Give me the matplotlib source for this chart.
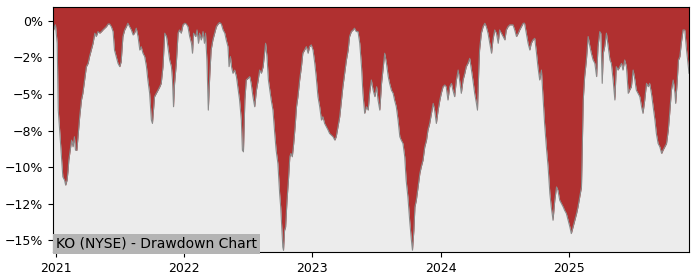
import pandas as pd
import matplotlib
matplotlib.use('Agg')
import matplotlib.pyplot as plt
import matplotlib.dates as mdates
from matplotlib.ticker import PercentFormatter, MultipleLocator

# KO drawdown in percent
dates = [
    '2020-12-24', '2020-12-29', '2020-12-31', '2021-01-05', '2021-01-08', '2021-01-12', '2021-01-17', '2021-01-21',
    '2021-01-26', '2021-01-29', '2021-02-02', '2021-02-05', '2021-02-07', '2021-02-11', '2021-02-15', '2021-02-19',
    '2021-02-23', '2021-02-26', '2021-03-02', '2021-03-06', '2021-03-10', '2021-03-15', '2021-03-19', '2021-03-24',
    '2021-03-29', '2021-04-03', '2021-04-07', '2021-04-12', '2021-04-17', '2021-04-22', '2021-04-26', '2021-05-01',
    '2021-05-06', '2021-05-11', '2021-05-15', '2021-05-20', '2021-05-25', '2021-05-30', '2021-06-03', '2021-06-08',
    '2021-06-13', '2021-06-17', '2021-06-22', '2021-06-27', '2021-07-02', '2021-07-06', '2021-07-11', '2021-07-16',
    '2021-07-21', '2021-07-25', '2021-07-30', '2021-08-04', '2021-08-09', '2021-08-13', '2021-08-18', '2021-08-23',
    '2021-08-28', '2021-09-01', '2021-09-06', '2021-09-11', '2021-09-16', '2021-09-20', '2021-09-25', '2021-09-30',
    '2021-10-03', '2021-10-06', '2021-10-09', '2021-10-14', '2021-10-19', '2021-10-24', '2021-10-28', '2021-11-02',
    '2021-11-07', '2021-11-12', '2021-11-16', '2021-11-21', '2021-11-26', '2021-11-29', '2021-12-02', '2021-12-05',
    '2021-12-10', '2021-12-15', '2021-12-19', '2021-12-24', '2021-12-29', '2022-01-03', '2022-01-07', '2022-01-12',
    '2022-01-17', '2022-01-22', '2022-01-25', '2022-01-28', '2022-02-03', '2022-02-07', '2022-02-11', '2022-02-14',
    '2022-02-19', '2022-02-24', '2022-02-28', '2022-03-03', '2022-03-07', '2022-03-11', '2022-03-15', '2022-03-19',
    '2022-03-24', '2022-03-29', '2022-04-03', '2022-04-08', '2022-04-12', '2022-04-17', '2022-04-22', '2022-04-27',
    '2022-05-01', '2022-05-06', '2022-05-09', '2022-05-13', '2022-05-16', '2022-05-20', '2022-05-25', '2022-05-30',
    '2022-06-04', '2022-06-08', '2022-06-13', '2022-06-16', '2022-06-19', '2022-06-23', '2022-06-27', '2022-07-02',
    '2022-07-07', '2022-07-11', '2022-07-16', '2022-07-21', '2022-07-26', '2022-07-31', '2022-08-04', '2022-08-09',
    '2022-08-14', '2022-08-18', '2022-08-21', '2022-08-25', '2022-08-29', '2022-09-02', '2022-09-06', '2022-09-11',
    '2022-09-16', '2022-09-20', '2022-09-25', '2022-09-30', '2022-10-03', '2022-10-06', '2022-10-09', '2022-10-11',
    '2022-10-14', '2022-10-17', '2022-10-21', '2022-10-25', '2022-10-29', '2022-11-01', '2022-11-05', '2022-11-09',
    '2022-11-13', '2022-11-17', '2022-11-21', '2022-11-26', '2022-12-01', '2022-12-05', '2022-12-10', '2022-12-15',
    '2022-12-20', '2022-12-24', '2022-12-29', '2023-01-03', '2023-01-08', '2023-01-12', '2023-01-17', '2023-01-22',
    '2023-01-27', '2023-01-31', '2023-02-05', '2023-02-10', '2023-02-15', '2023-02-19', '2023-02-24', '2023-03-01',
    '2023-03-06', '2023-03-10', '2023-03-15', '2023-03-20', '2023-03-25', '2023-03-29', '2023-04-03', '2023-04-08',
    '2023-04-13', '2023-04-17', '2023-04-22', '2023-04-27', '2023-05-01', '2023-05-06', '2023-05-11', '2023-05-16',
    '2023-05-21', '2023-05-25', '2023-05-30', '2023-06-04', '2023-06-09', '2023-06-13', '2023-06-18', '2023-06-23',
    '2023-06-28', '2023-07-03', '2023-07-07', '2023-07-12', '2023-07-17', '2023-07-22', '2023-07-26', '2023-07-31',
    '2023-08-05', '2023-08-09', '2023-08-14', '2023-08-19', '2023-08-23', '2023-08-28', '2023-09-02', '2023-09-07',
    '2023-09-11', '2023-09-16', '2023-09-21', '2023-09-25', '2023-09-30', '2023-10-05', '2023-10-10', '2023-10-13',
    '2023-10-17', '2023-10-20', '2023-10-24', '2023-10-29', '2023-11-03', '2023-11-07', '2023-11-12', '2023-11-17',
    '2023-11-22', '2023-11-26', '2023-12-01', '2023-12-06', '2023-12-11', '2023-12-15', '2023-12-20', '2023-12-25',
    '2023-12-30', '2024-01-03', '2024-01-08', '2024-01-13', '2024-01-17', '2024-01-22', '2024-01-27', '2024-02-01',
    '2024-02-05', '2024-02-10', '2024-02-15', '2024-02-20', '2024-02-24', '2024-02-29', '2024-03-05', '2024-03-10',
    '2024-03-14', '2024-03-19', '2024-03-24', '2024-03-29', '2024-04-02', '2024-04-07', '2024-04-12', '2024-04-15',
    '2024-04-19', '2024-04-21', '2024-04-26', '2024-05-01', '2024-05-06', '2024-05-10', '2024-05-15', '2024-05-20',
    '2024-05-25', '2024-05-29', '2024-06-03', '2024-06-08', '2024-06-13', '2024-06-17', '2024-06-22', '2024-06-27',
    '2024-07-02', '2024-07-06', '2024-07-11', '2024-07-16', '2024-07-21', '2024-07-25', '2024-07-30', '2024-08-04',
    '2024-08-09', '2024-08-13', '2024-08-18', '2024-08-23', '2024-08-27', '2024-09-01', '2024-09-06', '2024-09-11',
    '2024-09-15', '2024-09-20', '2024-09-25', '2024-09-30', '2024-10-04', '2024-10-09', '2024-10-14', '2024-10-19',
    '2024-10-23', '2024-10-28', '2024-11-02', '2024-11-07', '2024-11-11', '2024-11-16', '2024-11-21', '2024-11-26',
    '2024-11-30', '2024-12-05', '2024-12-10', '2024-12-15', '2024-12-19', '2024-12-24', '2024-12-29', '2025-01-03',
    '2025-01-07', '2025-01-12', '2025-01-17', '2025-01-22', '2025-01-26', '2025-01-31', '2025-02-05', '2025-02-10',
    '2025-02-14', '2025-02-19', '2025-02-24', '2025-03-01', '2025-03-05', '2025-03-10', '2025-03-15', '2025-03-20',
    '2025-03-24', '2025-03-29', '2025-04-01', '2025-04-05', '2025-04-08', '2025-04-12', '2025-04-17', '2025-04-22',
    '2025-04-27', '2025-05-01', '2025-05-06', '2025-05-11', '2025-05-15', '2025-05-20', '2025-05-25', '2025-05-30',
    '2025-06-03', '2025-06-08', '2025-06-13', '2025-06-18', '2025-06-22', '2025-06-27', '2025-07-02', '2025-07-07',
    '2025-07-11', '2025-07-16', '2025-07-21', '2025-07-26', '2025-07-30', '2025-08-04', '2025-08-09', '2025-08-14',
    '2025-08-18', '2025-08-23', '2025-08-28', '2025-09-02', '2025-09-06', '2025-09-11', '2025-09-16', '2025-09-21',
    '2025-09-25', '2025-09-30', '2025-10-05', '2025-10-10', '2025-10-14', '2025-10-19', '2025-10-24', '2025-10-29',
    '2025-10-31', '2025-11-04', '2025-11-08', '2025-11-12', '2025-11-16', '2025-11-21', '2025-11-26', '2025-12-01',
    '2025-12-05', '2025-12-08',
]
drawdown = [
    -0.73, -0.39, -0.27, -1.53, -6.10, -7.47, -9.29, -10.66,
    -10.89, -11.23, -10.89, -10.21, -9.52, -8.84, -8.15, -8.61,
    -7.92, -8.84, -8.84, -7.69, -6.55, -5.41, -4.95, -4.04,
    -3.13, -2.90, -2.44, -1.99, -1.53, -0.84, -1.07, -0.73,
    -0.84, -0.73, -0.62, -0.50, -0.39, -0.21, -0.21, -0.39,
    -0.73, -1.99, -2.44, -2.90, -3.13, -2.79, -1.07, -0.62,
    -0.39, -0.16, -0.39, -0.62, -0.96, -0.84, -0.50, -1.07,
    -1.99, -1.76, -2.21, -2.44, -3.13, -4.04, -4.95, -6.78,
    -7.01, -6.10, -5.18, -4.95, -4.73, -4.50, -4.27, -3.13,
    -0.84, -1.07, -1.76, -2.67, -3.13, -4.04, -5.87, -4.27,
    -2.90, -0.84, -0.62, -0.84, -0.27, -0.16, -0.21, -0.39,
    -1.07, -1.53, -2.21, -0.84, -1.07, -0.62, -1.53, -0.84,
    -1.30, -0.73, -1.53, -0.84, -2.67, -6.10, -3.81, -1.99,
    -1.30, -0.84, -0.39, -0.21, -0.11, -0.21, -0.62, -0.84,
    -1.30, -1.76, -3.13, -2.44, -3.13, -3.58, -3.36, -3.81,
    -4.73, -5.41, -6.78, -8.84, -8.95, -5.41, -4.04, -3.93,
    -3.81, -4.27, -5.18, -5.87, -4.73, -4.04, -3.36, -3.58,
    -3.13, -2.21, -1.53, -2.44, -4.04, -4.73, -5.41, -6.10,
    -7.69, -8.84, -9.75, -11.80, -12.72, -14.09, -15.46, -15.68,
    -14.32, -14.09, -12.26, -10.89, -9.29, -9.06, -9.29, -8.38,
    -7.24, -5.87, -5.18, -4.04, -3.13, -2.21, -1.99, -1.76,
    -2.21, -1.76, -1.64, -1.99, -2.90, -3.81, -5.18, -5.87,
    -6.78, -6.55, -7.01, -7.24, -7.47, -7.69, -7.81, -7.92,
    -8.15, -7.92, -7.24, -6.55, -5.41, -4.50, -3.58, -2.67,
    -1.99, -1.07, -0.73, -0.62, -0.50, -0.73, -0.73, -1.53,
    -3.13, -4.95, -6.32, -5.87, -6.10, -4.95, -4.04, -4.73,
    -5.18, -4.50, -5.41, -6.10, -4.27, -3.13, -2.21, -2.90,
    -3.81, -4.27, -4.73, -4.95, -5.41, -5.87, -6.78, -7.92,
    -8.15, -8.38, -9.29, -10.89, -12.03, -13.63, -15.00, -15.68,
    -14.32, -12.72, -12.26, -11.35, -10.43, -9.98, -9.52, -8.61,
    -8.15, -7.47, -7.01, -6.32, -5.64, -6.10, -7.01, -6.10,
    -5.41, -4.95, -4.50, -4.38, -4.50, -5.41, -4.50, -4.27,
    -4.73, -5.18, -4.04, -3.36, -4.04, -4.95, -4.04, -3.58,
    -3.13, -2.90, -2.56, -3.36, -4.04, -4.95, -5.64, -6.10,
    -3.13, -1.99, -0.84, -0.39, -0.16, -0.39, -0.84, -1.53,
    -2.21, -1.30, -0.62, -0.84, -1.53, -0.62, -0.84, -1.07,
    -1.30, -0.62, -0.39, -0.27, -0.27, -0.27, -0.62, -1.07,
    -0.84, -0.62, -0.39, -0.16, -0.16, -0.84, -1.53, -1.99,
    -1.53, -1.30, -1.19, -2.21, -3.13, -4.04, -3.36, -5.41,
    -7.01, -8.61, -9.98, -11.80, -12.72, -13.63, -12.26, -11.35,
    -11.58, -12.26, -12.49, -12.72, -12.95, -13.17, -13.63, -14.09,
    -14.54, -14.09, -13.63, -13.17, -12.72, -12.03, -11.35, -5.41,
    -3.81, -2.67, -1.07, -1.76, -2.21, -2.67, -2.90, -3.81,
    -1.76, -0.73, -0.84, -4.27, -2.21, -1.76, -0.84, -1.76,
    -2.67, -2.90, -4.04, -5.41, -3.13, -3.36, -3.13, -2.90,
    -3.36, -2.67, -3.13, -4.95, -4.73, -4.50, -3.36, -4.04,
    -4.73, -4.95, -5.18, -5.87, -6.32, -5.41, -4.27, -4.50,
    -4.27, -4.95, -5.87, -6.78, -7.69, -8.38, -8.61, -9.06,
    -8.84, -8.61, -8.38, -7.47, -6.32, -4.73, -4.04, -4.95,
    -5.64, -4.27, -2.67, -2.44, -1.53, -0.62, -0.62, -1.99,
    -2.90, -3.58,
]

x = pd.to_datetime(dates)
top = 0.95

fig = plt.figure(figsize=(7, 2.8), dpi=100)
ax = fig.add_axes([0.0757, 0.1, 0.9086, 0.875])
ax.set_facecolor('#ececec')
ax.fill_between(x, drawdown, top, color='#b03030', linewidth=0)
ax.plot(x, drawdown, color='#8a8a8a', linewidth=0.8)

ax.set_xlim(x[0], x[-1])
ax.set_ylim(-15.8, top)
ax.yaxis.set_major_locator(MultipleLocator(2.5))
ax.yaxis.set_major_formatter(PercentFormatter(100, decimals=0))
ax.xaxis.set_major_locator(mdates.YearLocator())
ax.xaxis.set_major_formatter(mdates.DateFormatter('%Y'))
ax.tick_params(labelsize=9)

ax.annotate('KO (NYSE) - Drawdown Chart', xy=(0, 0), xycoords='axes fraction',
            xytext=(2, 3), textcoords='offset points', fontsize=10,
            bbox=dict(facecolor='#b4b4b4', edgecolor='none', pad=2))

fig.savefig('out.png', dpi=100)
